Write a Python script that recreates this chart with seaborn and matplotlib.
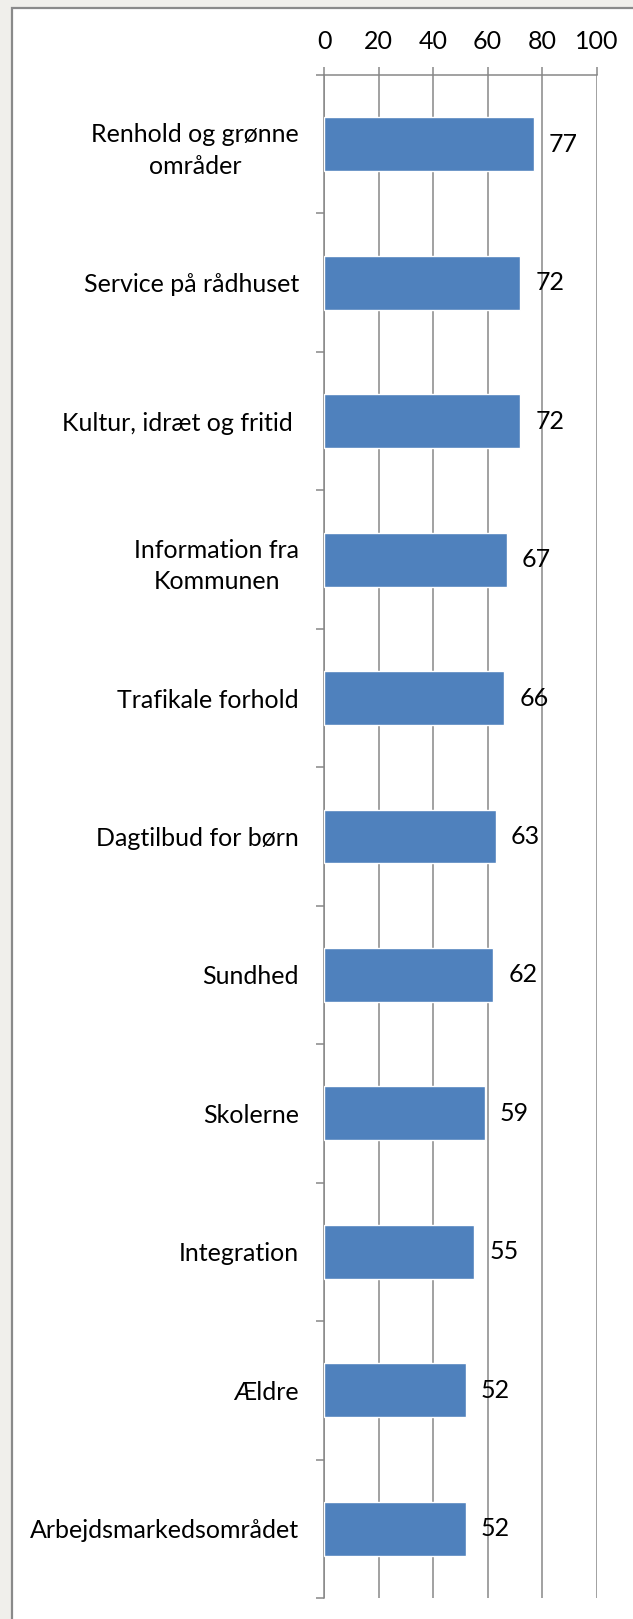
import matplotlib
matplotlib.use("Agg")
import matplotlib.pyplot as plt
import matplotlib.patches as mpatches
from matplotlib.ticker import FixedLocator
import seaborn as sns
import pandas as pd

# ===============================
# DATA
# ===============================
categories = [
    "Renhold og grønne\nområder",
    "Service på rådhuset",
    "Kultur, idræt og fritid ",
    "Information fra\nKommunen",
    "Trafikale forhold",
    "Dagtilbud for børn",
    "Sundhed",
    "Skolerne",
    "Integration",
    "Ældre",
    "Arbejdsmarkedsområdet",
]
values = [77, 72, 72, 67, 66, 63, 62, 59, 55, 52, 52]
x_ticks = [0, 20, 40, 60, 80, 100]

BAR_COLOR = "#4f81bd"
GRID_COLOR = "#878787"
BG_COLOR = "#f0efeb"

df = pd.DataFrame({"category": categories, "value": values})

# ===============================
# FIGURE
# ===============================
sns.set_theme(style="white")
plt.rcParams["font.family"] = ["Lato", "DejaVu Sans"]
FS = 18

W, H = 633, 1619
fig = plt.figure(figsize=(W / 100, H / 100), dpi=100)
fig.patch.set_facecolor(BG_COLOR)

# white chart panel with grey border (runs off right and bottom edge)
panel = mpatches.Rectangle((12 / W, -0.01), 1.0, 1 - 8 / H + 0.01,
                           transform=fig.transFigure, facecolor="white",
                           edgecolor="#8a8a8a", linewidth=1.6, zorder=-10)
fig.patches.append(panel)

ax = fig.add_axes([324 / W, 1 - 1598 / H, (596.5 - 324) / W, (1598 - 75) / H])
ax.set_facecolor("none")
ax.set_zorder(1)

sns.barplot(data=df, y="category", x="value", color=BAR_COLOR, width=0.39,
            orient="h", ax=ax, zorder=3, saturation=1)

ax.set_xlim(0, 100)
ax.set_ylim(len(categories) - 0.5, -0.5)

# x axis on top
ax.xaxis.tick_top()
ax.set_xticks(x_ticks)
ax.set_xticklabels([str(t) for t in x_ticks], fontsize=FS, color="black")
ax.tick_params(axis="x", which="major", direction="out", length=6,
               width=1.1, color=GRID_COLOR, pad=10)
ax.grid(axis="x", color=GRID_COLOR, linewidth=1.1, zorder=1)
ax.grid(axis="y", visible=False)

# category labels + boundary ticks on y
ax.set_yticks(range(len(categories)))
ax.set_yticklabels(categories, fontsize=FS, color="black",
                   multialignment="center", linespacing=1.45)
ax.tick_params(axis="y", which="major", length=0, pad=18)
ax.yaxis.set_minor_locator(FixedLocator([i - 0.5 for i in range(len(categories) + 1)]))
ax.tick_params(axis="y", which="minor", direction="out", length=6,
               width=1.1, color=GRID_COLOR, left=True)

ax.set_xlabel("")
ax.set_ylabel("")

for side in ["right", "bottom"]:
    ax.spines[side].set_visible(False)
for side in ["top", "left"]:
    ax.spines[side].set_color(GRID_COLOR)
    ax.spines[side].set_linewidth(1.1)

# value labels
for container in ax.containers:
    ax.bar_label(container, labels=[str(v) for v in values], padding=11,
                 fontsize=FS, color="black", zorder=4)

plt.savefig("out.png", dpi=100, facecolor=fig.get_facecolor())
plt.close()
